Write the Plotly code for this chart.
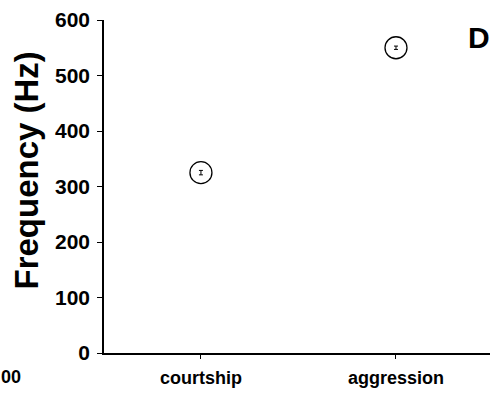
import plotly.graph_objects as go

categories = ["courtship", "aggression"]
freq_mean = [325, 550]
freq_err = [4, 3]
y_ticks = [0, 100, 200, 300, 400, 500, 600]
panel_label = "D"
y_title = "Frequency (Hz)"

FONT = "Liberation Sans, Arial, sans-serif"
W, H = 490, 396
L, R, T, B = 104, 0, 20, 43
pw, ph = W - L - R, H - T - B

def px_x(x):
    return (x - L) / pw

def px_y(y):
    return (H - B - y) / ph

fig = go.Figure()
fig.add_trace(go.Scatter(
    x=[0, 1], y=freq_mean, mode="markers",
    marker=dict(symbol="circle-open", size=22, color="black", line=dict(width=1.3, color="black")),
    error_y=dict(type="data", array=freq_err, visible=True, color="black", thickness=1, width=2),
    showlegend=False,
))

fig.update_layout(
    width=W, height=H,
    margin=dict(l=L, r=R, t=T, b=B),
    plot_bgcolor="white", paper_bgcolor="white",
    xaxis=dict(
        range=[-0.497, 1.482], tickmode="array", tickvals=[0, 1], ticktext=categories,
        showline=True, linecolor="black", linewidth=1.5, ticks="outside", ticklen=4,
        tickcolor="black", showgrid=False, zeroline=False, ticklabelstandoff=4,
        tickfont=dict(family=FONT, size=18, color="black", weight="bold"),
    ),
    yaxis=dict(
        range=[0, 600], tickvals=y_ticks, showline=True, linecolor="black", linewidth=1.5,
        ticks="outside", ticklen=5, tickcolor="black", showgrid=False, zeroline=False,
        ticklabelstandoff=3,
        tickfont=dict(family=FONT, size=21, color="black", weight="bold"),
    ),
    annotations=[
        dict(text=y_title, textangle=-90, x=px_x(26), y=px_y(170.5), xref="paper", yref="paper",
             showarrow=False, font=dict(family=FONT, size=33, color="black", weight="bold"),
             xanchor="center", yanchor="middle"),
        dict(text=panel_label, x=px_x(479), y=px_y(37.5), xref="paper", yref="paper",
             showarrow=False, font=dict(family=FONT, size=30, color="black", weight="bold"),
             xanchor="center", yanchor="middle"),
        dict(text="00", x=px_x(0), y=px_y(377), xref="paper", yref="paper",
             showarrow=False, font=dict(family=FONT, size=18, color="black", weight="bold"),
             xanchor="left", yanchor="middle", borderpad=0),
    ],
)

fig.write_html("out.html")
